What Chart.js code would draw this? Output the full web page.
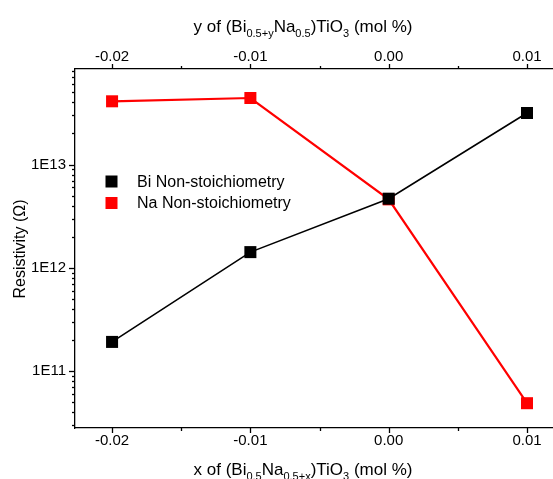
<!DOCTYPE html>
<html>
<head>
<meta charset="utf-8">
<script src="https://cdn.jsdelivr.net/npm/chart.js@4.4.0/dist/chart.umd.min.js"></script>
<style>
  html, body { margin: 0; padding: 0; background: #fff; }
</style>
</head>
<body>
<canvas id="resChart" width="553" height="479"></canvas>
<script>
// data
const xValues = [-0.02, -0.01, 0.00, 0.01];
const biValues = [1.92e11, 1.42e12, 4.67e12, 3.15e13];
const naValues = [4.09e13, 4.4e13, 4.6e12, 4.9e10];
const seriesLabels = ['Bi Non-stoichiometry', 'Na Non-stoichiometry'];
const xTicks = [-0.02, -0.015, -0.01, -0.005, 0, 0.005, 0.01];
const xTickLabels = ['-0.02', '', '-0.01', '', '0.00', '', '0.01'];
const yDecades = [10, 11, 12, 13];
const yTickLabels = ['1E10', '1E11', '1E12', '1E13'];

const FONT = "Arial, 'Liberation Sans', sans-serif";

// log ticks: every m*10^e, label only the powers of ten
function buildLogTicks(scale) {
  const ticks = [];
  yDecades.forEach(function (e) {
    for (let m = 1; m <= 9; m++) {
      const v = m * Math.pow(10, e);
      if (v >= scale.min && v <= scale.max) ticks.push({ value: v, major: m === 1 });
    }
  });
  scale.ticks = ticks;
}

function yLabel(value) {
  const e = Math.round(Math.log10(value));
  if (Math.abs(value - Math.pow(10, e)) > 1e-6 * value) return '';
  const i = yDecades.indexOf(e);
  return i >= 0 ? yTickLabels[i] : '';
}

function xAxis(position) {
  return {
    type: 'linear',
    position: position,
    min: -0.02268,
    max: 0.01188,
    afterBuildTicks: function (s) { s.ticks = xTicks.map(function (v) { return { value: v }; }); },
    afterFit: function (s) { s.height = position === 'top' ? 69 : 51; },
    grid: { display: false, drawTicks: false },
    border: { display: true, color: '#000', width: 1.3 },
    ticks: {
      autoSkip: false,
      maxRotation: 0,
      color: '#000',
      font: { family: FONT, size: 15 },
      padding: position === 'top' ? 3 : 4,
      callback: function (v, i) { return xTickLabels[i]; }
    }
  };
}

// outward tick marks, long for labelled ticks and short for the rest
const tickMarks = {
  id: 'tickMarks',
  afterDraw: function (chart) {
    const ctx = chart.ctx;
    const area = chart.chartArea;
    ctx.save();
    ctx.strokeStyle = '#000';
    ctx.lineWidth = 1.3;
    ['x', 'x2'].forEach(function (id) {
      const s = chart.scales[id];
      s.ticks.forEach(function (t, i) {
        const px = Math.round(s.getPixelForValue(t.value)) + 0.5;
        const len = xTickLabels[i] ? 5 : 3;
        ctx.beginPath();
        if (id === 'x') { ctx.moveTo(px, area.bottom); ctx.lineTo(px, area.bottom + len); }
        else { ctx.moveTo(px, area.top); ctx.lineTo(px, area.top - len); }
        ctx.stroke();
      });
    });
    const y = chart.scales.y;
    y.ticks.forEach(function (t) {
      const py = Math.round(y.getPixelForValue(t.value)) + 0.5;
      const len = t.major ? 6 : 3;
      ctx.beginPath();
      ctx.moveTo(area.left, py);
      ctx.lineTo(area.left - len, py);
      ctx.stroke();
    });
    ctx.restore();
  }
};

// axis titles with subscripts, and the legend inside the plot
function drawRich(ctx, parts, cx, baseline, size, subSize) {
  let total = 0;
  parts.forEach(function (p) {
    ctx.font = (p[1] ? subSize : size) + 'px ' + FONT;
    total += ctx.measureText(p[0]).width;
  });
  let x = cx - total / 2;
  ctx.textAlign = 'left';
  ctx.textBaseline = 'alphabetic';
  parts.forEach(function (p) {
    ctx.font = (p[1] ? subSize : size) + 'px ' + FONT;
    ctx.fillText(p[0], x, baseline + (p[1] ? size * 0.3 : 0));
    x += ctx.measureText(p[0]).width;
  });
}

const labelsPlugin = {
  id: 'labelsPlugin',
  afterDraw: function (chart) {
    const ctx = chart.ctx;
    ctx.save();
    ctx.fillStyle = '#000';
    drawRich(ctx, [['y of (Bi', 0], ['0.5+y', 1], ['Na', 0], ['0.5', 1], [')TiO', 0], ['3', 1], [' (mol %)', 0]],
      303, 32, 17, 11);
    drawRich(ctx, [['x of (Bi', 0], ['0.5', 1], ['Na', 0], ['0.5+x', 1], [')TiO', 0], ['3', 1], [' (mol %)', 0]],
      303, 475, 17, 11);

    ctx.save();
    ctx.translate(25, 249);
    ctx.rotate(-Math.PI / 2);
    ctx.font = '16px ' + FONT;
    ctx.textAlign = 'center';
    ctx.textBaseline = 'alphabetic';
    ctx.fillText('Resistivity (\u03A9)', 0, 0);
    ctx.restore();

    chart.data.datasets.forEach(function (ds, i) {
      const cy = 181.5 + i * 21.5;
      ctx.fillStyle = ds.backgroundColor;
      ctx.fillRect(105.5, cy - 6, 12, 12);
      ctx.fillStyle = '#000';
      ctx.font = '16px ' + FONT;
      ctx.textAlign = 'left';
      ctx.textBaseline = 'middle';
      ctx.fillText(ds.label, 137, cy + 1);
    });
    ctx.restore();
  }
};

const ctx = document.getElementById('resChart').getContext('2d');
const resChart = new Chart(ctx, {
  type: 'line',
  data: {
    datasets: [{
      label: seriesLabels[0],
      data: xValues.map(function (x, i) { return { x: x, y: biValues[i] }; }),
      borderColor: '#000',
      backgroundColor: '#000',
      borderWidth: 1.6,
      pointStyle: 'rect',
      pointRadius: 8.5,
      pointBorderWidth: 0,
      xAxisID: 'x',
      yAxisID: 'y'
    }, {
      label: seriesLabels[1],
      data: xValues.map(function (x, i) { return { x: x, y: naValues[i] }; }),
      borderColor: '#ff0000',
      backgroundColor: '#ff0000',
      borderWidth: 2.2,
      pointStyle: 'rect',
      pointRadius: 8.5,
      pointBorderWidth: 0,
      xAxisID: 'x',
      yAxisID: 'y'
    }]
  },
  options: {
    responsive: false,
    animation: false,
    layout: { padding: 0, autoPadding: false },
    plugins: {
      legend: { display: false },
      tooltip: { enabled: false }
    },
    scales: {
      x: xAxis('bottom'),
      x2: xAxis('top'),
      y: {
        type: 'logarithmic',
        position: 'left',
        min: 2.82e10,
        max: 8.4e13,
        afterBuildTicks: buildLogTicks,
        afterFit: function (s) { s.width = 75; },
        grid: { display: false, drawTicks: false },
        border: { display: true, color: '#000', width: 1.3 },
        ticks: {
          autoSkip: false,
          color: '#000',
          font: { family: FONT, size: 15 },
          padding: 9,
          callback: yLabel
        }
      }
    }
  },
  plugins: [tickMarks, labelsPlugin]
});
</script>
</body>
</html>
